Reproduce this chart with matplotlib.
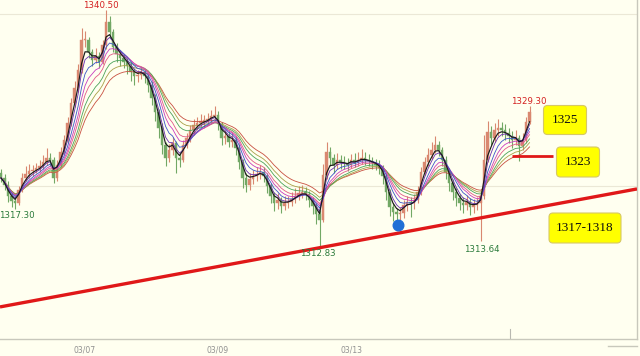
import matplotlib
matplotlib.use('Agg')
import matplotlib.pyplot as plt
import matplotlib.patches as mpatches
import matplotlib.transforms as mtransforms
from matplotlib.lines import Line2D
import pandas as pd

# precios de cierre (velas horarias)
cierres = [1320.96, 1320.15, 1318.9, 1318.3, 1318.1, 1319.6, 1321.0, 1321.4, 1321.8, 1321.9,
           1322.1, 1322.3, 1322.8, 1323.3, 1323.1, 1321.0, 1322.5, 1324.0, 1325.4, 1327.4,
           1329.7, 1331.4, 1333.5, 1337.0, 1337.0, 1335.6, 1334.7, 1335.2, 1334.5, 1336.4,
           1339.1, 1337.9, 1336.2, 1335.4, 1334.9, 1334.5, 1334.0, 1333.3, 1332.8, 1332.9,
           1333.3, 1332.8, 1331.8, 1330.3, 1328.6, 1326.8, 1324.8, 1323.3, 1324.2, 1325.0,
           1323.3, 1323.1, 1324.8, 1325.6, 1326.5, 1327.1, 1327.4, 1327.6, 1327.7, 1327.8,
           1328.2, 1328.3, 1327.2, 1325.6, 1325.9, 1325.2, 1325.4, 1324.5, 1322.8, 1321.0,
           1320.2, 1320.8, 1321.2, 1321.4, 1321.7, 1321.2, 1320.0, 1318.9, 1318.0, 1318.4,
           1317.7, 1318.1, 1318.2, 1318.5, 1318.9, 1319.2, 1319.3, 1319.1, 1318.4, 1317.7,
           1316.8, 1316.1, 1321.3, 1324.0, 1323.3, 1322.5, 1323.1, 1322.8, 1322.7, 1322.5,
           1323.1, 1322.8, 1323.1, 1323.3, 1323.1, 1322.9, 1322.7, 1322.5, 1322.1, 1321.2,
           1319.3, 1317.6, 1317.0, 1316.8, 1316.9, 1317.8, 1318.2, 1318.0, 1318.4, 1319.3,
           1321.7, 1322.8, 1323.6, 1324.2, 1324.8, 1324.2, 1323.1, 1321.7, 1320.4, 1319.3,
           1318.6, 1318.1, 1317.8, 1318.2, 1317.6, 1317.8, 1318.0, 1318.9, 1323.1, 1326.3,
           1325.6, 1326.5, 1326.8, 1326.5, 1326.2, 1325.8, 1325.4, 1325.6, 1324.7, 1325.4,
           1327.5, 1328.6]

maximos = [1322.0, 1321.4, 1320.6, 1319.5, 1318.9, 1320.0, 1321.5, 1322.4, 1322.6, 1322.5,
           1322.7, 1323.0, 1323.6, 1324.5, 1323.9, 1323.4, 1323.0, 1324.6, 1326.0, 1328.0,
           1330.3, 1332.2, 1334.2, 1338.4, 1338.0, 1337.4, 1336.0, 1336.1, 1335.6, 1337.0,
           1340.5, 1339.8, 1338.3, 1336.7, 1335.8, 1335.4, 1334.9, 1334.4, 1333.8, 1333.5,
           1333.9, 1333.6, 1333.1, 1332.2, 1330.7, 1329.0, 1327.3, 1325.2, 1324.9, 1325.7,
           1325.3, 1324.0, 1325.4, 1326.2, 1327.1, 1327.8, 1328.0, 1328.4, 1328.3, 1328.5,
           1328.9, 1329.3, 1328.7, 1327.5, 1326.6, 1326.4, 1326.3, 1325.8, 1324.9, 1323.2,
           1321.5, 1321.6, 1321.9, 1322.2, 1322.5, 1322.2, 1321.6, 1320.4, 1319.3, 1319.2,
           1318.8, 1318.9, 1318.9, 1319.3, 1319.8, 1320.0, 1320.1, 1319.9, 1319.5, 1318.8,
           1318.1, 1317.2, 1322.6, 1325.2, 1324.6, 1323.8, 1323.9, 1323.6, 1323.5, 1323.3,
           1323.8, 1323.9, 1324.0, 1324.3, 1324.0, 1323.7, 1323.4, 1323.2, 1323.0, 1322.5,
           1321.6, 1319.7, 1318.1, 1317.5, 1317.6, 1318.4, 1318.9, 1318.7, 1319.1, 1320.0,
           1322.2, 1323.4, 1324.4, 1325.2, 1325.9, 1325.3, 1324.6, 1323.5, 1322.1, 1320.8,
           1319.8, 1319.1, 1318.7, 1319.0, 1318.6, 1318.5, 1318.8, 1319.6, 1326.0, 1327.6,
           1327.0, 1327.4, 1327.8, 1327.5, 1327.2, 1326.8, 1326.4, 1326.5, 1326.0, 1326.2,
           1328.1, 1329.3]

minimos = [1320.5, 1319.6, 1318.2, 1317.6, 1317.3, 1317.8, 1319.3, 1320.6, 1321.0, 1321.2,
           1321.5, 1321.7, 1322.0, 1322.5, 1322.4, 1320.4, 1320.6, 1322.2, 1323.7, 1325.0,
           1327.0, 1329.2, 1331.0, 1333.2, 1336.2, 1334.9, 1334.0, 1334.3, 1333.8, 1334.2,
           1336.0, 1337.2, 1335.6, 1334.5, 1334.0, 1333.8, 1333.0, 1332.2, 1331.8, 1332.1,
           1332.5, 1332.0, 1331.0, 1329.4, 1327.6, 1325.6, 1323.8, 1322.4, 1322.8, 1323.6,
           1321.6, 1322.2, 1322.8, 1324.4, 1325.2, 1326.0, 1326.5, 1326.9, 1326.8, 1327.1,
           1327.3, 1327.6, 1326.6, 1324.8, 1324.9, 1324.6, 1324.6, 1323.6, 1322.0, 1319.8,
           1319.3, 1319.6, 1320.3, 1320.6, 1320.9, 1320.5, 1319.2, 1318.0, 1317.1, 1317.4,
           1316.9, 1317.2, 1317.5, 1317.7, 1318.0, 1318.4, 1318.6, 1318.4, 1317.6, 1316.8,
           1315.6, 1312.83, 1315.8, 1320.8, 1322.4, 1321.6, 1322.0, 1322.0, 1322.0, 1321.8,
           1322.1, 1322.2, 1322.4, 1322.6, 1322.5, 1322.3, 1322.0, 1321.9, 1321.4, 1320.3,
           1318.4, 1316.6, 1316.0, 1315.8, 1315.9, 1316.3, 1317.1, 1316.4, 1317.4, 1318.0,
           1319.0, 1321.3, 1322.4, 1323.2, 1323.9, 1323.5, 1322.3, 1320.9, 1319.5, 1318.4,
           1317.7, 1317.2, 1316.9, 1317.2, 1316.7, 1316.9, 1317.2, 1313.64, 1318.5, 1322.8,
           1324.8, 1325.2, 1325.9, 1325.8, 1325.4, 1325.0, 1324.5, 1324.8, 1322.9, 1324.2,
           1325.0, 1327.2]

apertura_inicial = 1321.5

# medias moviles (cinta de colores)
periodos_media = [3, 4, 6, 8, 10, 13, 16, 20]
colores_media = ['#1a1a1a', '#6a2fb0', '#3a55c8', '#c83cc0', '#e05a86', '#4aa35a', '#a8a048', '#c85040']

# eje x
posiciones_fecha = [24, 62, 100]
etiquetas_fecha = ['03/07', '03/09', '03/13']

# anotaciones
linea_tendencia_x = [-0.3, 181.7]
linea_tendencia_y = [1305.97, 1319.69]
soporte_x = [146.0, 157.7]
soporte_y = [1323.5, 1323.5]
punto_azul = (113.3, 1315.5)
marca_actual = 145.4

etiquetas_precio = [
    ('1340.50', 28.6, 1341.05, '#d42020'),
    ('1329.30', 150.9, 1329.9, '#d42020'),
    ('1317.30', 4.6, 1316.55, '#2a7a3a'),
    ('1312.83', 90.6, 1312.13, '#2a7a3a'),
    ('1313.64', 137.4, 1312.7, '#2a7a3a'),
]

# cajas amarillas: texto, centro (px desde arriba-izquierda), ancho, alto
cajas = [
    ('1325', 565, 120, 43, 29),
    ('1323', 578, 162, 43, 30),
    ('1317-1318', 585, 228, 72, 30),
]

FONDO = '#fffff0'
COLOR_SUBE = '#d98870'
COLOR_BAJA = '#72a865'


def dibujar_velas(ax):
    aperturas = [apertura_inicial] + cierres[:-1]
    for i, (o, h, l, c) in enumerate(zip(aperturas, maximos, minimos, cierres)):
        color = COLOR_SUBE if c >= o else COLOR_BAJA
        ax.vlines(i, l, h, color=color, lw=0.8, zorder=2)
        alto = abs(c - o)
        if alto < 0.1:
            alto = 0.1
        ax.add_patch(mpatches.Rectangle((i - 0.38, min(o, c)), 0.76, alto,
                                        fc=color, ec=color, lw=0.3, zorder=2))


def dibujar_medias(ax):
    serie = pd.Series(cierres)
    for periodo, color in zip(periodos_media[::-1], colores_media[::-1]):
        media = serie.ewm(span=periodo, adjust=True).mean()
        ancho = 0.85 if color == '#1a1a1a' else 0.6
        ax.plot(range(len(cierres)), media, color=color, lw=ancho, zorder=3)


def main():
    fig = plt.figure(figsize=(6.4, 3.56), dpi=100)
    fig.patch.set_facecolor(FONDO)
    ax = fig.add_axes([0, 17 / 356, 637 / 640, 339 / 356])
    ax.set_facecolor(FONDO)

    ax.set_xlim(-0.3, 181.7)
    ax.set_ylim(1302.24, 1341.66)

    ax.set_yticks([1320, 1340])
    ax.yaxis.grid(True, color='#ebe8d6', lw=0.8)
    ax.tick_params(axis='y', length=0, labelleft=False)
    ax.set_xticks(posiciones_fecha)
    ax.set_xticklabels(etiquetas_fecha, fontsize=5.5, color='#909090')
    ax.tick_params(axis='x', length=0, pad=5)
    ax.set_axisbelow(True)

    for lado in ['top', 'left']:
        ax.spines[lado].set_visible(False)
    for lado in ['bottom', 'right']:
        ax.spines[lado].set_color('#c8c8bc')
        ax.spines[lado].set_linewidth(1.0)

    dibujar_velas(ax)
    dibujar_medias(ax)

    ax.plot(linea_tendencia_x, linea_tendencia_y, color='#e01818', lw=2.4, zorder=4,
            solid_capstyle='butt')
    ax.plot(soporte_x, soporte_y, color='#e01818', lw=2.0, zorder=4, solid_capstyle='butt')
    ax.scatter([punto_azul[0]], [punto_azul[1]], s=58, color='#1f6fd6', zorder=5)

    # marca pequena sobre el eje (barra actual)
    ax.plot([marca_actual, marca_actual], [0, 0.03], transform=ax.get_xaxis_transform(),
            color='#b8b8b0', lw=0.8)

    for texto, x, y, color in etiquetas_precio:
        ax.text(x, y, texto, fontsize=6.2, color=color, ha='center', va='center',
                clip_on=False, zorder=6)

    # cajas en pixeles de la figura (origen abajo-izquierda)
    trans = mtransforms.IdentityTransform()
    alto_fig = 356
    for texto, cx, cy, w, h in cajas:
        y_centro = alto_fig - cy
        caja = mpatches.FancyBboxPatch((cx - w / 2, y_centro - h / 2), w, h,
                                       boxstyle='round,pad=0,rounding_size=4',
                                       fc='#ffff00', ec='#d6c866', lw=0.8,
                                       transform=trans, zorder=7)
        fig.patches.append(caja)
        fig.text(cx, y_centro, texto, transform=trans, ha='center', va='center',
                 fontsize=9.5, family='Liberation Serif', color='#111111', zorder=8)

    # trazo corto gris abajo a la derecha
    fig.add_artist(Line2D([608 / 640, 637 / 640], [10 / 356, 10 / 356],
                          transform=fig.transFigure, color='#c8c8bc', lw=1.0))

    fig.savefig('out.png', dpi=100, facecolor=FONDO)


if __name__ == '__main__':
    main()
